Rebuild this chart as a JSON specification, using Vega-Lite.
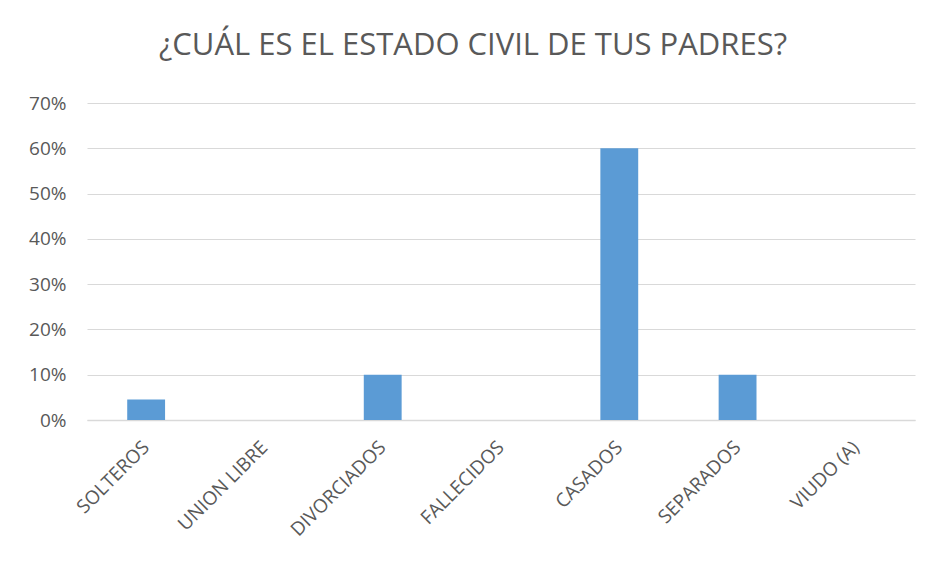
{
  "$schema": "https://vega.github.io/schema/vega-lite/v6.json",
  "width": 828,
  "height": 317,
  "autosize": {"type": "none"},
  "padding": {"left": 87, "top": 103, "right": 18, "bottom": 144},
  "background": "white",
  "title": {
    "text": "¿CUÁL ES EL ESTADO CIVIL DE TUS PADRES?",
    "font": "Open Sans",
    "fontSize": 31,
    "fontWeight": "normal",
    "color": "#595959",
    "anchor": "middle",
    "offset": 32,
    "dx": -28
  },
  "data": {
    "values": [
      {"estado": "SOLTEROS", "pct": 0.045},
      {"estado": "UNION LIBRE", "pct": 0},
      {"estado": "DIVORCIADOS", "pct": 0.10},
      {"estado": "FALLECIDOS", "pct": 0},
      {"estado": "CASADOS", "pct": 0.60},
      {"estado": "SEPARADOS", "pct": 0.10},
      {"estado": "VIUDO (A)", "pct": 0}
    ]
  },
  "mark": {"type": "bar", "color": "#5b9bd5"},
  "encoding": {
    "x": {
      "field": "estado",
      "type": "nominal",
      "sort": null,
      "scale": {"paddingInner": 0.68, "paddingOuter": 0.34},
      "axis": {
        "title": null,
        "labelAngle": -45,
        "labelAlign": "right",
        "labelBaseline": "middle",
        "labelFont": "Open Sans",
        "labelFontSize": 19,
        "labelColor": "#595959",
        "labelPadding": 24,
        "ticks": false,
        "domainColor": "#d9d9d9",
        "domainWidth": 1.5,
        "grid": false
      }
    },
    "y": {
      "field": "pct",
      "type": "quantitative",
      "scale": {"domain": [0, 0.7]},
      "axis": {
        "title": null,
        "format": ".0%",
        "values": [0, 0.1, 0.2, 0.3, 0.4, 0.5, 0.6, 0.7],
        "labelFont": "Open Sans",
        "labelFontSize": 19,
        "labelColor": "#595959",
        "labelPadding": 21,
        "ticks": false,
        "domain": false,
        "gridColor": "#d9d9d9",
        "gridWidth": 1
      }
    }
  },
  "config": {"view": {"stroke": null}}
}
